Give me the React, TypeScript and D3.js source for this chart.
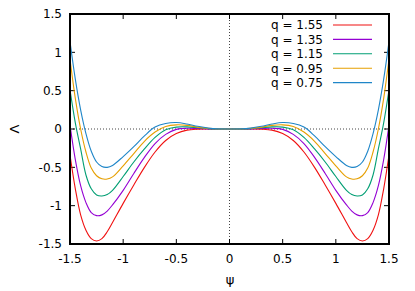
import { line, scaleLinear, curveCatmullRom } from "d3";

const W = 415;
const H = 291;
const M = { top: 14, right: 26, bottom: 47, left: 70 };

const PSI = [-1.5, -1.45, -1.4, -1.35, -1.3, -1.25, -1.2, -1.15, -1.1, -1, -0.9, -0.8, -0.7, -0.6, -0.5, -0.4, -0.3, -0.2, -0.1, 0, 0.1, 0.2, 0.3, 0.4, 0.5, 0.6, 0.7, 0.8, 0.9, 1, 1.1, 1.15, 1.2, 1.25, 1.3, 1.35, 1.4, 1.45, 1.5];

const Q155 = [-0.34, -0.78, -1.12, -1.32, -1.43, -1.46, -1.43, -1.34, -1.22, -0.97, -0.73, -0.5, -0.3, -0.15, -0.06, -0.015, -0.002, 0, 0, 0, 0, 0, -0.002, -0.015, -0.06, -0.15, -0.3, -0.5, -0.73, -0.97, -1.22, -1.34, -1.43, -1.46, -1.43, -1.32, -1.12, -0.78, -0.34];
const Q135 = [0.05, -0.4, -0.74, -0.96, -1.09, -1.13, -1.12, -1.07, -0.99, -0.8, -0.58, -0.37, -0.19, -0.07, -0.005, 0.009, 0.007, 0.002, 0, 0, 0, 0.002, 0.007, 0.009, -0.005, -0.07, -0.19, -0.37, -0.58, -0.8, -0.99, -1.07, -1.12, -1.13, -1.09, -0.96, -0.74, -0.4, 0.05];
const Q115 = [0.51, 0.08, -0.26, -0.6, -0.78, -0.86, -0.873, -0.855, -0.8, -0.62, -0.43, -0.26, -0.11, -0.01, 0.025, 0.028, 0.016, 0.005, 0.0005, 0, 0.0005, 0.005, 0.016, 0.028, 0.025, -0.01, -0.11, -0.26, -0.43, -0.62, -0.8, -0.855, -0.873, -0.86, -0.78, -0.6, -0.26, 0.08, 0.51];
const Q095 = [0.91, 0.4, 0, -0.3, -0.51, -0.61, -0.65, -0.653, -0.625, -0.48, -0.32, -0.16, -0.04, 0.032, 0.054, 0.047, 0.025, 0.008, 0.001, 0, 0.001, 0.008, 0.025, 0.047, 0.054, 0.032, -0.04, -0.16, -0.32, -0.48, -0.625, -0.653, -0.65, -0.61, -0.51, -0.3, 0, 0.4, 0.91];
const Q075 = [1.14, 0.65, 0.25, -0.06, -0.29, -0.43, -0.49, -0.5, -0.475, -0.36, -0.23, -0.09, 0.025, 0.072, 0.084, 0.065, 0.035, 0.012, 0.002, 0, 0.002, 0.012, 0.035, 0.065, 0.084, 0.072, 0.025, -0.09, -0.23, -0.36, -0.475, -0.5, -0.49, -0.43, -0.29, -0.06, 0.25, 0.65, 1.14];

const LABELS = ["q = 1.55", "q = 1.35", "q = 1.15", "q = 0.95", "q = 0.75"];
const COLORS = ["#f01010", "#9400d3", "#009e73", "#e69f00", "#1f86c8"];
const SERIES = [Q155, Q135, Q115, Q095, Q075];

const X_TICKS = [-1.5, -1, -0.5, 0, 0.5, 1, 1.5];
const Y_TICKS = [-1.5, -1, -0.5, 0, 0.5, 1, 1.5];

const FONT = "'DejaVu Sans', sans-serif";

export default function App() {
  const x = scaleLinear().domain([-1.5, 1.5]).range([M.left, W - M.right]);
  const y = scaleLinear().domain([-1.5, 1.5]).range([H - M.bottom, M.top]);

  const path = line<number>()
    .x((_, i) => x(PSI[i]))
    .y((v) => y(v))
    .curve(curveCatmullRom.alpha(0.5));

  const x0 = M.left;
  const x1 = W - M.right;
  const y0 = M.top;
  const y1 = H - M.bottom;
  const tk = 5;

  return (
    <svg
      width={W}
      height={H}
      viewBox={`0 0 ${W} ${H}`}
      style={{ position: "absolute", left: 0, top: 0, background: "#fff" }}
      fontFamily={FONT}
      fontSize={12}
    >
      <defs>
        <clipPath id="plot">
          <rect x={x0} y={y0} width={x1 - x0} height={y1 - y0} />
        </clipPath>
      </defs>

      {/* zero axes, dotted */}
      <line x1={x0} x2={x1} y1={y(0)} y2={y(0)} stroke="#444" strokeWidth={1} strokeDasharray="1,2" />
      <line x1={x(0)} x2={x(0)} y1={y0} y2={y1} stroke="#444" strokeWidth={1} strokeDasharray="1,2" />

      {/* ticks, mirrored on all four sides */}
      {X_TICKS.map((t) => (
        <g key={`xt${t}`}>
          <line x1={x(t)} x2={x(t)} y1={y1} y2={y1 - tk} stroke="#000" />
          <line x1={x(t)} x2={x(t)} y1={y0} y2={y0 + tk} stroke="#000" />
          <text x={x(t)} y={y1 + 19} textAnchor="middle">{String(t)}</text>
        </g>
      ))}
      {Y_TICKS.map((t) => (
        <g key={`yt${t}`}>
          <line x1={x0} x2={x0 + tk} y1={y(t)} y2={y(t)} stroke="#000" />
          <line x1={x1} x2={x1 - tk} y1={y(t)} y2={y(t)} stroke="#000" />
          <text x={x0 - 8} y={y(t)} dy="0.36em" textAnchor="end">{String(t)}</text>
        </g>
      ))}

      <g clipPath="url(#plot)" fill="none">
        {SERIES.map((s, i) => (
          <path key={LABELS[i]} d={path(s) ?? undefined} stroke={COLORS[i]} strokeWidth={1.1} />
        ))}
      </g>

      {/* legend */}
      {LABELS.map((l, i) => {
        const ly = 25 + i * 14.4;
        return (
          <g key={l}>
            <text x={323} y={ly} dy="0.36em" textAnchor="end">{l}</text>
            <line x1={333} x2={372} y1={ly} y2={ly} stroke={COLORS[i]} strokeWidth={1.1} />
          </g>
        );
      })}

      <rect x={x0} y={y0} width={x1 - x0} height={y1 - y0} fill="none" stroke="#000" strokeWidth={2} />

      <text x={230} y={284} textAnchor="middle" fontSize={13}>ψ</text>
      <text transform={`translate(19,${y(0)}) rotate(-90)`} textAnchor="middle" fontSize={13}>Λ</text>
    </svg>
  );
}
